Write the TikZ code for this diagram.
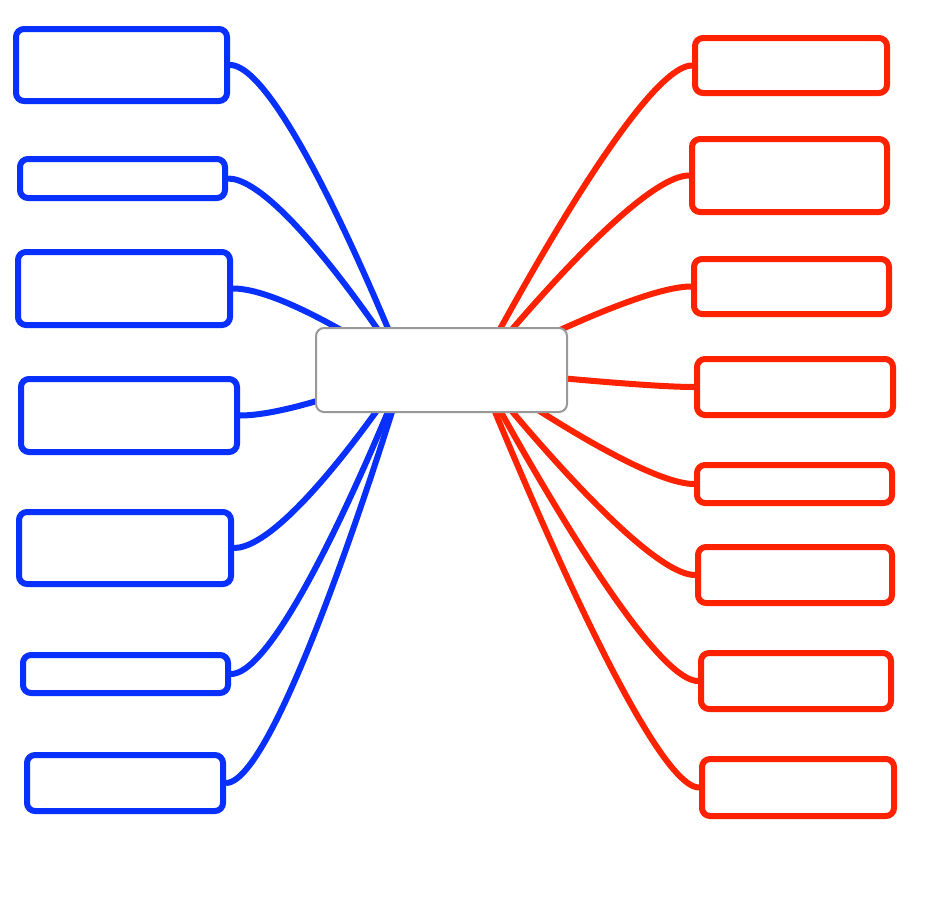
\documentclass[tikz,border=0pt]{standalone}
\usepackage{xcolor}
\definecolor{mapblue}{RGB}{8,48,255}
\definecolor{mapred}{RGB}{255,34,0}
\definecolor{mapgray}{RGB}{153,153,153}

\begin{document}
\begin{tikzpicture}[x=1pt,y=-1pt,
  leaf/.style={fill=white,line width=6pt,rounded corners=8pt,inner sep=0pt},
  leafL/.style={leaf,draw=mapblue},
  leafR/.style={leaf,draw=mapred},
  linkL/.style={line width=6pt,draw=mapblue},
  linkR/.style={line width=6pt,draw=mapred},
  rootbox/.style={draw=mapgray,fill=white,line width=2pt,rounded corners=8pt,inner sep=0pt}]
\useasboundingbox (0,0) rectangle (930,900);
% left branch
\node[leafL,minimum width=211pt,minimum height=72pt] (l1) at (121.5,65) {};
\node[leafL,minimum width=205pt,minimum height=39pt] (l2) at (122.5,178.5) {};
\node[leafL,minimum width=212pt,minimum height=73pt] (l3) at (124,288.5) {};
\node[leafL,minimum width=216pt,minimum height=73pt] (l4) at (129,415.5) {};
\node[leafL,minimum width=212pt,minimum height=72pt] (l5) at (125,548) {};
\node[leafL,minimum width=205pt,minimum height=38pt] (l6) at (125.5,674) {};
\node[leafL,minimum width=196pt,minimum height=56pt] (l7) at (125,783) {};
% right branch
\node[leafR,minimum width=192pt,minimum height=55pt] (r1) at (791,65.5) {};
\node[leafR,minimum width=195pt,minimum height=73pt] (r2) at (789.5,175.5) {};
\node[leafR,minimum width=195pt,minimum height=55pt] (r3) at (791.5,286.5) {};
\node[leafR,minimum width=196pt,minimum height=56pt] (r4) at (795,387) {};
\node[leafR,minimum width=195pt,minimum height=38pt] (r5) at (794.5,484) {};
\node[leafR,minimum width=194pt,minimum height=56pt] (r6) at (795,575) {};
\node[leafR,minimum width=190pt,minimum height=56pt] (r7) at (796,681) {};
\node[leafR,minimum width=192pt,minimum height=57pt] (r8) at (798,787.5) {};
% connectors
\coordinate (hubL) at (405,370);
\coordinate (hubR) at (478,370);
\foreach \n in {l1,l2,l3,l4,l5,l6,l7}
  \draw[linkL] (\n.east) .. controls +(55,0) and (hubL) .. (hubL);
\foreach \n in {r1,r2,r3,r4,r5,r6,r7,r8}
  \draw[linkR] (\n.west) .. controls +(-55,0) and (hubR) .. (hubR);
% centre
\node[rootbox,minimum width=251pt,minimum height=84pt] (root) at (441.5,370) {};
\end{tikzpicture}
\end{document}
